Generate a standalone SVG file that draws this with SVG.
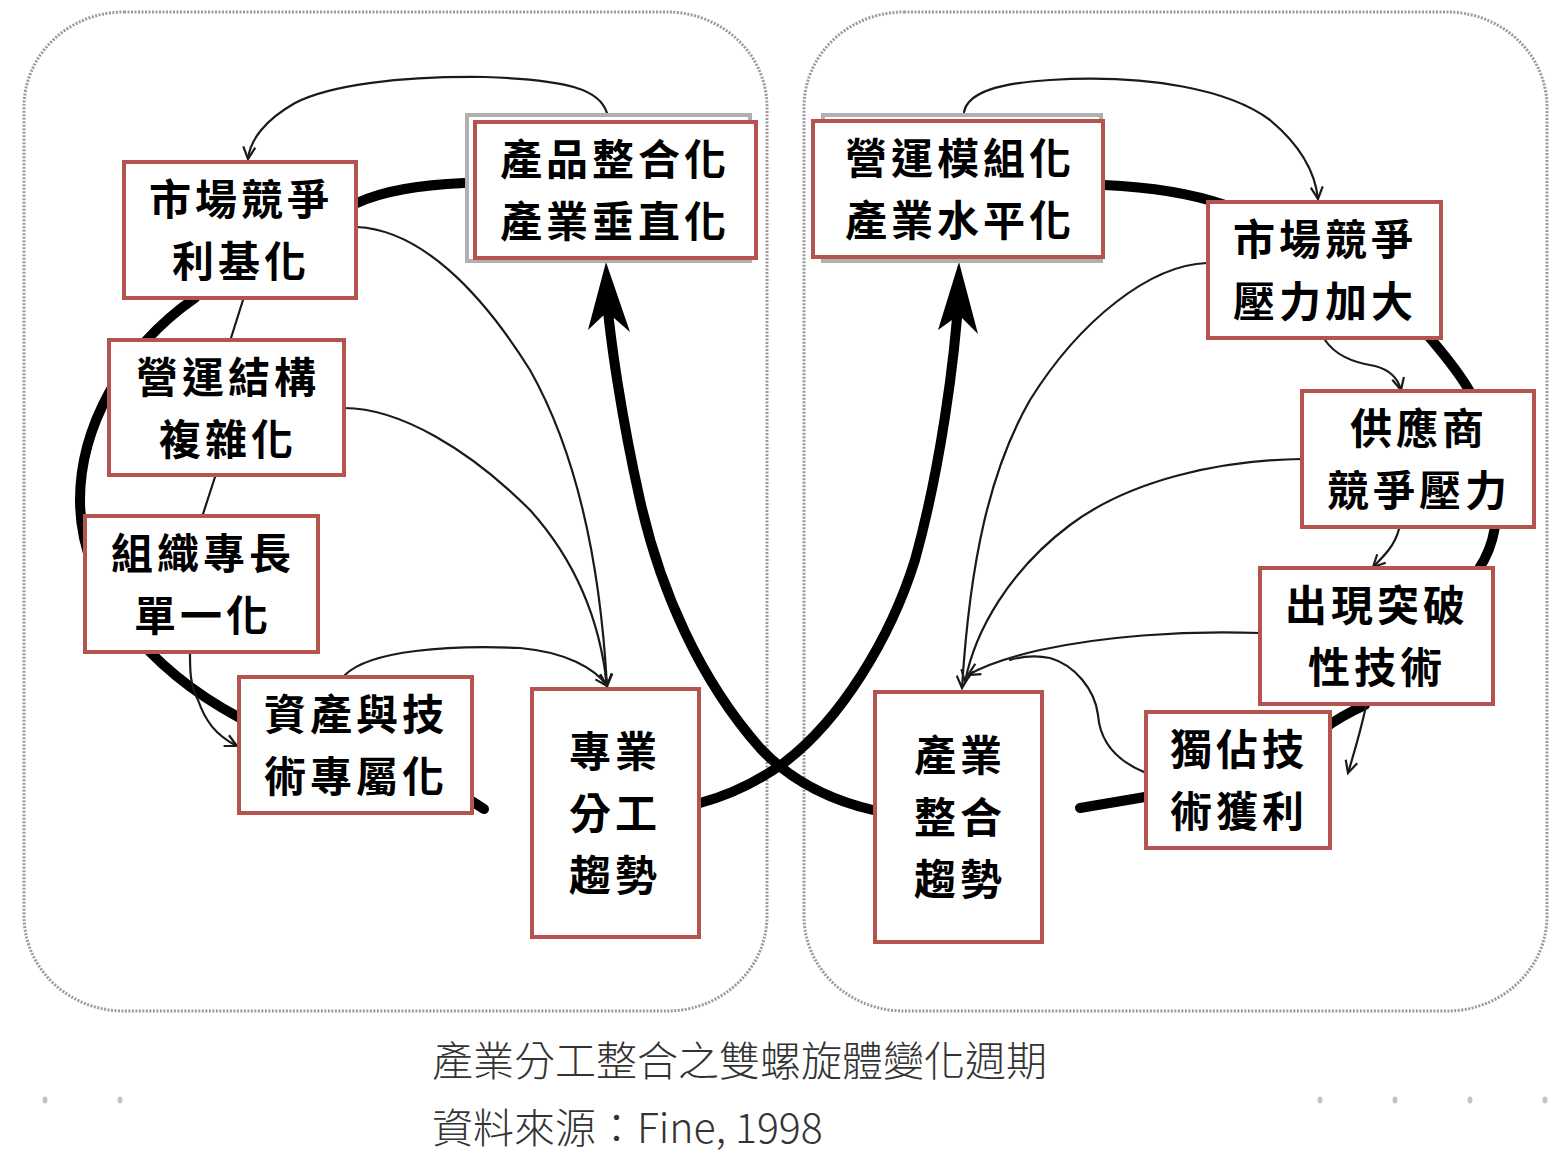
<svg xmlns="http://www.w3.org/2000/svg" width="1568" height="1162" viewBox="0 0 1568 1162">
<defs>
<style>
.frame{fill:none;stroke:#9a9a9a;stroke-width:3;stroke-dasharray:2 1.5}
.box{fill:#fff;stroke:#b5534f;stroke-width:4}
.shadow{fill:#fff;stroke:#b0b0b0;stroke-width:4}
.lbl{font-family:"Noto Sans CJK TC","Noto Sans CJK SC",sans-serif;font-weight:700;font-size:42px;letter-spacing:4px;fill:#000;text-anchor:middle}
.thick{fill:none;stroke:#000;stroke-width:10;stroke-linecap:round}
.thin{fill:none;stroke:#1a1a1a;stroke-width:2.2;stroke-linecap:round}
.head{fill:#000}
.cap{font-family:"Noto Sans CJK TC","Noto Sans CJK SC",sans-serif;font-weight:300;font-size:41px;fill:#333}
.dot{fill:#c4c4c4}
</style>
<marker id="arr" markerUnits="userSpaceOnUse" markerWidth="20" markerHeight="20" refX="14" refY="8" orient="auto">
<path d="M2,2 L14,8 L2,14" fill="none" stroke="#1a1a1a" stroke-width="2.2"/>
</marker>
</defs>

<rect class="frame" x="24" y="12" width="743" height="999" rx="100" ry="95"/>
<rect class="frame" x="804" y="12" width="743" height="999" rx="100" ry="95"/>

<g id="connectors">
<path class="thick" d="M464,183 C420,185 385,190 357,203"/>
<path class="thick" d="M195,298 C120,350 80,430 80,500 C80,590 150,670 240,718"/>
<path class="thick" d="M470,800 L484,809"/>
<path class="thick" d="M873,810 C830,800 790,780 760,748 C700,680 660,590 640,500 C622,420 610,340 606,290"/>
<polygon class="head" points="606,262 630,332 607,312 588,330"/>
<path class="thick" d="M700,803 C730,795 760,780 785,762 C840,720 890,640 915,560 C940,470 955,360 959,290"/>
<polygon class="head" points="959,262 978,334 959,315 938,330"/>
<path class="thick" d="M1104,185 C1150,187 1190,193 1225,205"/>
<path class="thick" d="M1425,332 C1440,350 1458,370 1470,392"/>
<path class="thick" d="M1495,527 C1492,545 1485,560 1478,570"/>
<path class="thick" d="M1365,705 C1350,712 1338,718 1325,728"/>
<path class="thick" d="M1145,797 L1080,808"/>

<path class="thin" marker-end="url(#arr)" d="M607,113 C600,90 570,80 485,77 C400,76 330,85 295,103 C265,120 250,140 248,159"/>
<path class="thin" marker-end="url(#arr)" d="M357,227 C420,230 480,290 530,370 C575,450 600,560 607,686"/>
<path class="thin" marker-end="url(#arr)" d="M344,408 C400,408 470,450 530,510 C575,560 600,620 607,686"/>
<path class="thin" marker-end="url(#arr)" d="M345,675 C370,650 450,645 520,648 C565,652 595,668 607,686"/>
<path class="thin" d="M243,300 L231,338"/>
<path class="thin" d="M215,477 L203,514"/>
<path class="thin" marker-end="url(#arr)" d="M190,654 C190,670 190,685 198,700 C205,720 215,735 237,746"/>

<path class="thin" marker-end="url(#arr)" d="M964,112 C968,92 1000,83 1050,80 C1150,74 1230,90 1270,120 C1300,145 1315,170 1318,199"/>
<path class="thin" marker-end="url(#arr)" d="M1207,263 C1150,265 1080,320 1030,400 C990,470 970,560 962,688"/>
<path class="thin" marker-end="url(#arr)" d="M1302,459 C1220,460 1130,480 1070,525 C1010,570 975,630 965,682"/>
<path class="thin" marker-end="url(#arr)" d="M1260,633 C1180,630 1100,637 1040,650 C1005,658 985,665 968,675"/>
<path class="thin" d="M1144,772 C1115,760 1100,740 1098,715 C1095,690 1075,665 1050,658 C1035,655 1020,657 1010,660"/>
<path class="thin" marker-end="url(#arr)" d="M1325,340 C1335,355 1355,363 1375,366 C1390,370 1398,378 1401,390"/>
<path class="thin" marker-end="url(#arr)" d="M1399,529 C1395,545 1385,555 1373,567"/>
<path class="thin" marker-end="url(#arr)" d="M1366,706 C1362,725 1355,750 1348,773"/>
</g>

<g id="n-market-left">
<rect class="box" x="124" y="162" width="232" height="136"/>
<text class="lbl"><tspan x="241" y="215">市場競爭</tspan><tspan x="241" y="277">利基化</tspan></text>
</g>
<g id="n-product">
<rect class="shadow" x="467" y="115" width="283" height="146"/>
<rect class="box" x="475" y="122" width="281" height="136"/>
<text class="lbl"><tspan x="615" y="175">產品整合化</tspan><tspan x="615" y="237">產業垂直化</tspan></text>
</g>
<g id="n-opstruct">
<rect class="box" x="109" y="340" width="235" height="135"/>
<text class="lbl"><tspan x="228" y="393">營運結構</tspan><tspan x="228" y="455">複雜化</tspan></text>
</g>
<g id="n-orgskill">
<rect class="box" x="85" y="516" width="233" height="136"/>
<text class="lbl"><tspan x="203" y="569">組織專長</tspan><tspan x="203" y="631">單一化</tspan></text>
</g>
<g id="n-asset">
<rect class="box" x="239" y="677" width="233" height="136"/>
<text class="lbl"><tspan x="356" y="730">資產與技</tspan><tspan x="356" y="792">術專屬化</tspan></text>
</g>
<g id="n-special">
<rect class="box" x="532" y="689" width="167" height="248"/>
<text class="lbl"><tspan x="615" y="767">專業</tspan><tspan x="615" y="829">分工</tspan><tspan x="615" y="891">趨勢</tspan></text>
</g>

<g id="n-modular">
<rect class="shadow" x="823" y="115" width="278" height="146"/>
<rect class="box" x="813" y="121" width="290" height="136"/>
<text class="lbl"><tspan x="960" y="174">營運模組化</tspan><tspan x="960" y="236">產業水平化</tspan></text>
</g>
<g id="n-market-right">
<rect class="box" x="1208" y="202" width="233" height="136"/>
<text class="lbl"><tspan x="1325" y="255">市場競爭</tspan><tspan x="1325" y="317">壓力加大</tspan></text>
</g>
<g id="n-supplier">
<rect class="box" x="1302" y="391" width="232" height="136"/>
<text class="lbl"><tspan x="1419" y="444">供應商</tspan><tspan x="1419" y="506">競爭壓力</tspan></text>
</g>
<g id="n-breakthrough">
<rect class="box" x="1260" y="568" width="233" height="136"/>
<text class="lbl"><tspan x="1377" y="621">出現突破</tspan><tspan x="1377" y="683">性技術</tspan></text>
</g>
<g id="n-monopoly">
<rect class="box" x="1146" y="712" width="184" height="136"/>
<text class="lbl"><tspan x="1239" y="765">獨佔技</tspan><tspan x="1239" y="827">術獲利</tspan></text>
</g>
<g id="n-integrate">
<rect class="box" x="875" y="692" width="167" height="250"/>
<text class="lbl"><tspan x="960" y="771">產業</tspan><tspan x="960" y="833">整合</tspan><tspan x="960" y="895">趨勢</tspan></text>
</g>

<g id="caption">
<text class="cap" x="432" y="1076">產業分工整合之雙螺旋體變化週期</text>
<text class="cap" x="432" y="1143">資料來源：Fine, 1998</text>
</g>
<g id="dots">
<ellipse class="dot" cx="45" cy="1100" rx="2.5" ry="3.5"/>
<ellipse class="dot" cx="120" cy="1100" rx="2.5" ry="3.5"/>
<ellipse class="dot" cx="1320" cy="1100" rx="2.5" ry="3.5"/>
<ellipse class="dot" cx="1395" cy="1100" rx="2.5" ry="3.5"/>
<ellipse class="dot" cx="1470" cy="1100" rx="2.5" ry="3.5"/>
<ellipse class="dot" cx="1545" cy="1100" rx="2.5" ry="3.5"/>
</g>
</svg>
